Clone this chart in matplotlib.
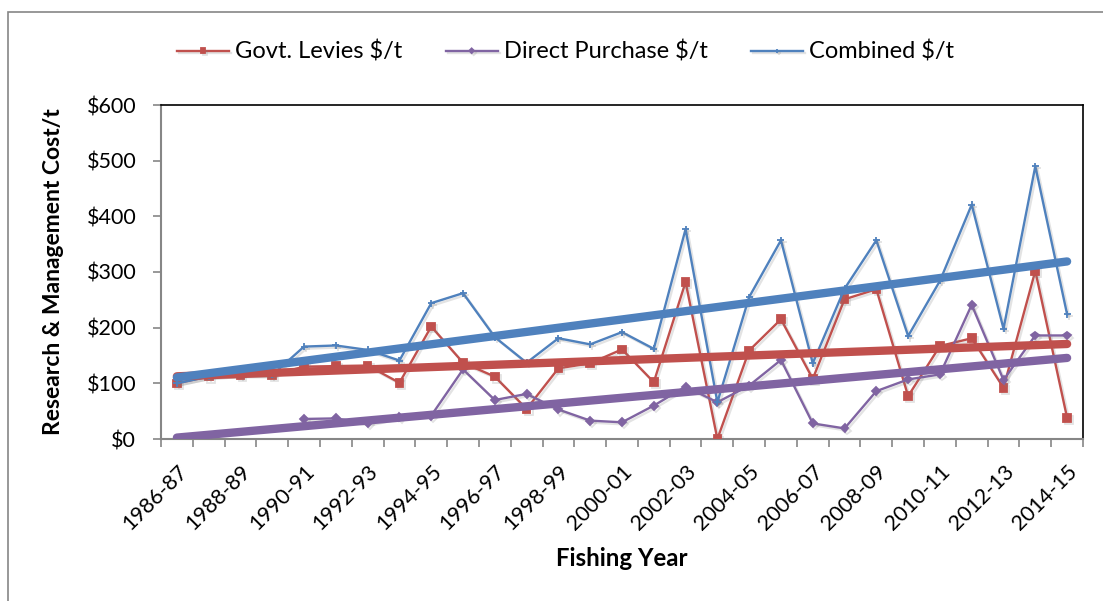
import matplotlib
matplotlib.use("Agg")
import matplotlib.pyplot as plt
import matplotlib.patheffects as pe
from matplotlib.patches import Rectangle
import numpy as np

# fishing years, one per category
years = ["%d-%02d" % (y, (y + 1) % 100) for y in range(1986, 2015)]

govt_levies = [100, 112, 115, 115, 130, 131, 132, 101, 202, 137,
               112, 54, 127, 136, 161, 102, 282, 0, 159, 215,
               108, 251, 269, 77, 167, 181, 92, 302, 38]
direct_purchase = [np.nan, np.nan, np.nan, np.nan, 36, 37, 28, 40, 42, 125,
                   70, 81, 53, 33, 30, 60, 94, 66, 96, 142,
                   28, 19, 86, 107, 116, 241, 106, 186, 186]
combined = [100, 112, 115, 115, 166, 168, 160, 141, 244, 262,
            183, 137, 181, 170, 192, 162, 377, 66, 255, 357,
            136, 270, 357, 185, 284, 421, 198, 490, 224]

y_ticks = [0, 100, 200, 300, 400, 500, 600]

RED = "#C0504D"
PURPLE = "#8064A2"
BLUE = "#4F81BD"
GRAY = "#868686"

plt.rcParams["font.family"] = ["Lato", "DejaVu Sans"]

fig = plt.figure(figsize=(11.03, 6.01), dpi=100)
ax = fig.add_axes([161 / 1103, 1 - 439 / 601, (1083 - 161) / 1103, (439 - 105) / 601])

# outer chart border
fig.patches.append(Rectangle((8 / 1103, -0.1), 1.2, 0.1 + 1 - 12 / 601,
                             transform=fig.transFigure, fill=False,
                             edgecolor=GRAY, lw=1.2))

x = np.arange(len(years))
shadow = [pe.SimpleLineShadow(offset=(1.5, -1.5), shadow_color="gray", alpha=0.22),
          pe.Normal()]

series = [
    ("Govt. Levies $/t", govt_levies, RED, "s", 5.5),
    ("Direct Purchase $/t", direct_purchase, PURPLE, "D", 4),
    ("Combined $/t", combined, BLUE, "+", 5),
]

for label, vals, col, mk, ms in series:
    ax.plot(x, vals, color=col, lw=1.7, marker=mk, ms=ms, mew=1.3,
            mfc=col, mec=col, label=label, path_effects=shadow, zorder=3)

# linear trend lines over the full range
for label, vals, col, mk, ms in series:
    v = np.array(vals, dtype=float)
    ok = ~np.isnan(v)
    k, b = np.polyfit(x[ok], v[ok], 1)
    ax.plot(x, k * x + b, color=col, lw=6, solid_capstyle="round", zorder=4)

ax.set_xlim(-0.5, len(years) - 0.5)
ax.set_ylim(0, 600)
ax.set_yticks(y_ticks)
ax.set_yticklabels(["$%d" % v for v in y_ticks], fontsize=15.5)

ax.set_xticks(np.arange(-0.5, len(years)), minor=False)
ax.set_xticklabels([])
ax.set_xticks(x[::2], minor=True)
ax.set_xticklabels(years[::2], minor=True, rotation=45, ha="right",
                   va="top", rotation_mode="anchor", fontsize=15.5)

ax.tick_params(axis="both", which="major", direction="out", length=5.8,
               color=GRAY, width=1.2)
ax.tick_params(axis="x", which="minor", length=0, pad=16)
ax.tick_params(axis="y", pad=12)

for side in ["left", "bottom"]:
    ax.spines[side].set_color(GRAY)
    ax.spines[side].set_linewidth(1.5)
for side in ["top", "right"]:
    ax.spines[side].set_color("black")
    ax.spines[side].set_linewidth(1.2)

ax.set_xlabel("Fishing Year", fontsize=17.3, fontweight="bold")
ax.xaxis.set_label_coords(0.5, (439 - 547) / 334)
ax.set_ylabel("Research & Management Cost/t", fontsize=16.5, fontweight="bold")
ax.yaxis.set_label_coords((64 - 161) / 922, 0.5)

fig.legend(loc="center", bbox_to_anchor=(0.5126, 0.9135), ncol=3, frameon=False,
           fontsize=17, handlelength=2.2, handletextpad=0.25, columnspacing=1.85,
           markerscale=0.6)

fig.savefig("out.png", dpi=100)
